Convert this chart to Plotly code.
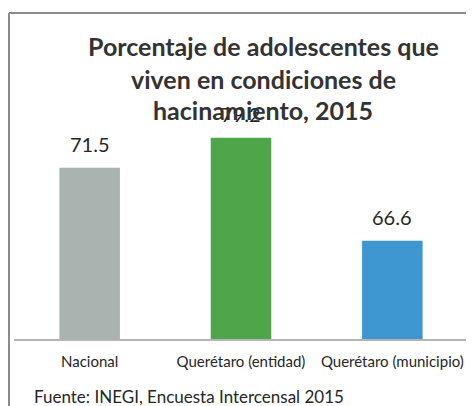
import plotly.graph_objects as go

# page has an 8px body margin, so the figure is shrunk by that much
page_offset = 8
width_standard = 474 - page_offset
height_standard = 406 - page_offset

categories = ['Nacional', 'Querétaro (entidad)', 'Querétaro (municipio)']
values = [71.5, 73.5, 66.6]
labels = ['71.5', '79.2', '66.6']
colors = ['#a9b3af', '#4ea54a', '#3f97d1']

title_lines = ['Porcentaje de adolescentes que',
               'viven en condiciones de',
               'hacinamiento, 2015']
source = 'Fuente: INEGI, Encuesta Intercensal 2015'

font = 'Lato'
text_color = '#262626'

# plot area in page pixels: x 14..468, y 41..339
m_l = 14 - page_offset
m_r = 474 - 468
m_t = 41 - page_offset
m_b = 406 - 339
plot_w = width_standard - m_l - m_r
plot_h = height_standard - m_t - m_b


def py_to_paper(py):
    return (339 - py) / plot_h


def px_to_paper(px):
    return (px - 14) / plot_w


fig = go.Figure()
fig.add_trace(go.Bar(
    x=categories,
    y=values,
    marker=dict(color=colors, line=dict(width=0)),
    hoverinfo='x+y'
))

fig.update_layout(
    width=width_standard,
    height=height_standard,
    margin=dict(l=m_l, r=m_r, t=m_t, b=m_b),
    plot_bgcolor='#ffffff',
    paper_bgcolor='#ffffff',
    bargap=0.6,
    showlegend=False,
    font=dict(family=font, color=text_color)
)
fig.update_xaxes(
    showgrid=False,
    showline=True,
    linecolor='#b4b4b4',
    linewidth=2,
    ticks='',
    ticklabelstandoff=8,
    tickfont=dict(family=font, size=15, color=text_color)
)
fig.update_yaxes(
    range=[60, 80],
    showgrid=False,
    showticklabels=False,
    zeroline=False,
    showline=False
)

# data labels above bars
for cat, val, lab in zip(categories, values, labels):
    fig.add_annotation(
        x=cat, y=val, text=lab, showarrow=False,
        yshift=24, yanchor='middle',
        font=dict(family=font, size=20, color=text_color)
    )

# title lines
for line, py in zip(title_lines, [46, 79, 110]):
    fig.add_annotation(
        x=px_to_paper(263), y=py_to_paper(py), xref='paper', yref='paper',
        text=f'<b>{line}</b>', showarrow=False, xanchor='center', yanchor='middle',
        font=dict(family=font, size=25, color='#333333')
    )

# source
fig.add_annotation(
    x=px_to_paper(32), y=py_to_paper(396), xref='paper', yref='paper',
    text=source, showarrow=False, xanchor='left', yanchor='middle',
    font=dict(family=font, size=17, color=text_color)
)

# frame border (left and top)
fig.add_shape(type='line', xref='paper', yref='paper',
              x0=px_to_paper(9), x1=px_to_paper(9),
              y0=py_to_paper(13), y1=py_to_paper(410),
              line=dict(color='#8c8c8c', width=2))
fig.add_shape(type='line', xref='paper', yref='paper',
              x0=px_to_paper(9), x1=px_to_paper(480),
              y0=py_to_paper(13), y1=py_to_paper(13),
              line=dict(color='#8c8c8c', width=2))

fig.write_html('out.html')
